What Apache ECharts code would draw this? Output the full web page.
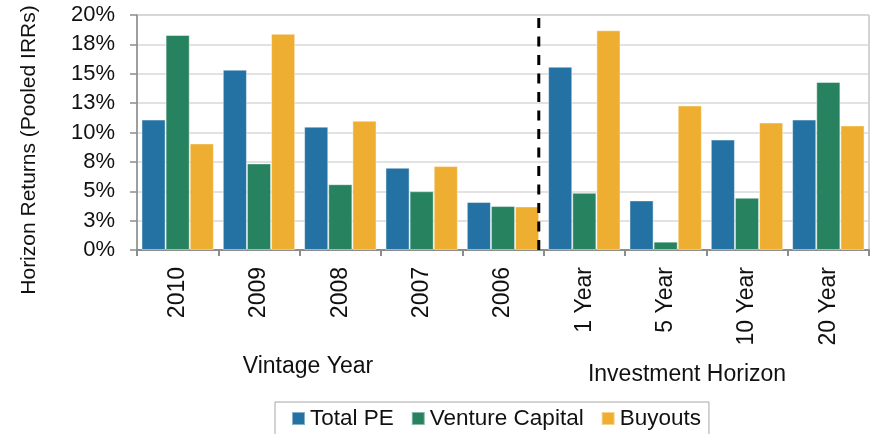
<!DOCTYPE html>
<html>
<head>
<meta charset="utf-8">
<script src="https://cdn.jsdelivr.net/npm/echarts@6/dist/echarts.min.js"></script>
<style>
  html, body { margin: 0; padding: 0; background: #fff; }
  #main { width: 871px; height: 434px; }
</style>
</head>
<body>
<div id="main"></div>
<script>
// data (percent)
var categories = ['2010', '2009', '2008', '2007', '2006', '1 Year', '5 Year', '10 Year', '20 Year'];
var totalPE = [11.1, 15.35, 10.5, 7.0, 4.08, 15.6, 4.22, 9.4, 11.1];
var ventureCapital = [18.3, 7.37, 5.6, 5.0, 3.74, 4.87, 0.71, 4.45, 14.3];
var buyouts = [9.07, 18.4, 11.0, 7.14, 3.71, 18.7, 12.3, 10.85, 10.6];
var dividerAt = [4.44]; // dashed separator, in category units

var FONT = 'Liberation Sans, Arial, sans-serif';
var chart = echarts.init(document.getElementById('main'), null, { renderer: 'canvas' });

function bar(name, data, color) {
  return {
    name: name,
    type: 'bar',
    data: data,
    barGap: '0%',
    barCategoryGap: '11%',
    itemStyle: { color: color, borderColor: 'rgba(255,255,255,0.45)', borderWidth: 1 }
  };
}

var option = {
  animation: false,
  backgroundColor: '#fff',
  textStyle: { fontFamily: FONT },
  grid: {
    left: 137, right: 2, top: 15, bottom: 184,
    containLabel: false,
    outerBoundsMode: 'none',
    show: true, borderColor: '#a6a6a6', borderWidth: 1
  },
  legend: {
    data: ['Total PE', 'Venture Capital', 'Buyouts'],
    left: 275, top: 402,
    padding: [5, 8, 12, 16],
    itemWidth: 13, itemHeight: 13, itemGap: 17,
    icon: 'rect',
    borderColor: '#a6a6a6', borderWidth: 1,
    textStyle: { fontSize: 22.5, color: '#111', fontFamily: FONT }
  },
  xAxis: [{
    type: 'category',
    data: categories,
    axisLine: { lineStyle: { color: '#8c8c8c', width: 2 } },
    axisTick: { show: true, length: 6, alignWithLabel: false, lineStyle: { color: '#8c8c8c', width: 2 } },
    axisLabel: { rotate: 90, margin: 17, fontSize: 23, color: '#111', interval: 0 }
  }, {
    type: 'value', min: -0.5, max: 8.5, show: false
  }],
  yAxis: {
    type: 'value',
    min: 0, max: 20, interval: 2.5,
    axisLine: { show: true, onZero: false, lineStyle: { color: '#8c8c8c', width: 1.5 } },
    axisTick: { show: true, length: 7, lineStyle: { color: '#8c8c8c', width: 1.5 } },
    axisLabel: {
      fontSize: 22, color: '#111', margin: 22,
      formatter: function (v) { return Math.round(v) + '%'; }
    },
    splitLine: { lineStyle: { color: '#d9d9d9', width: 1.5 } }
  },
  graphic: [
    { type: 'text', x: 29, y: 150, rotation: Math.PI / 2, style: { text: 'Horizon Returns (Pooled IRRs)', font: '21px ' + FONT, fill: '#111', align: 'center', verticalAlign: 'middle' } },
    { type: 'text', x: 308, y: 367, style: { text: 'Vintage Year', font: '23px ' + FONT, fill: '#111', align: 'center', verticalAlign: 'middle' } },
    { type: 'text', x: 687, y: 375, style: { text: 'Investment Horizon', font: '23px ' + FONT, fill: '#111', align: 'center', verticalAlign: 'middle' } }
  ],
  series: [
    bar('Total PE', totalPE, '#2372a3'),
    bar('Venture Capital', ventureCapital, '#27825f'),
    bar('Buyouts', buyouts, '#eeae31'),
    {
      name: 'divider',
      type: 'line',
      xAxisIndex: 1,
      silent: true,
      symbol: 'none',
      clip: false,
      z: 5,
      lineStyle: { color: '#000', width: 3, type: [10, 8.5] },
      data: [[dividerAt[0], 0], [dividerAt[0], 20]]
    }
  ]
};
chart.setOption(option);
</script>
</body>
</html>
